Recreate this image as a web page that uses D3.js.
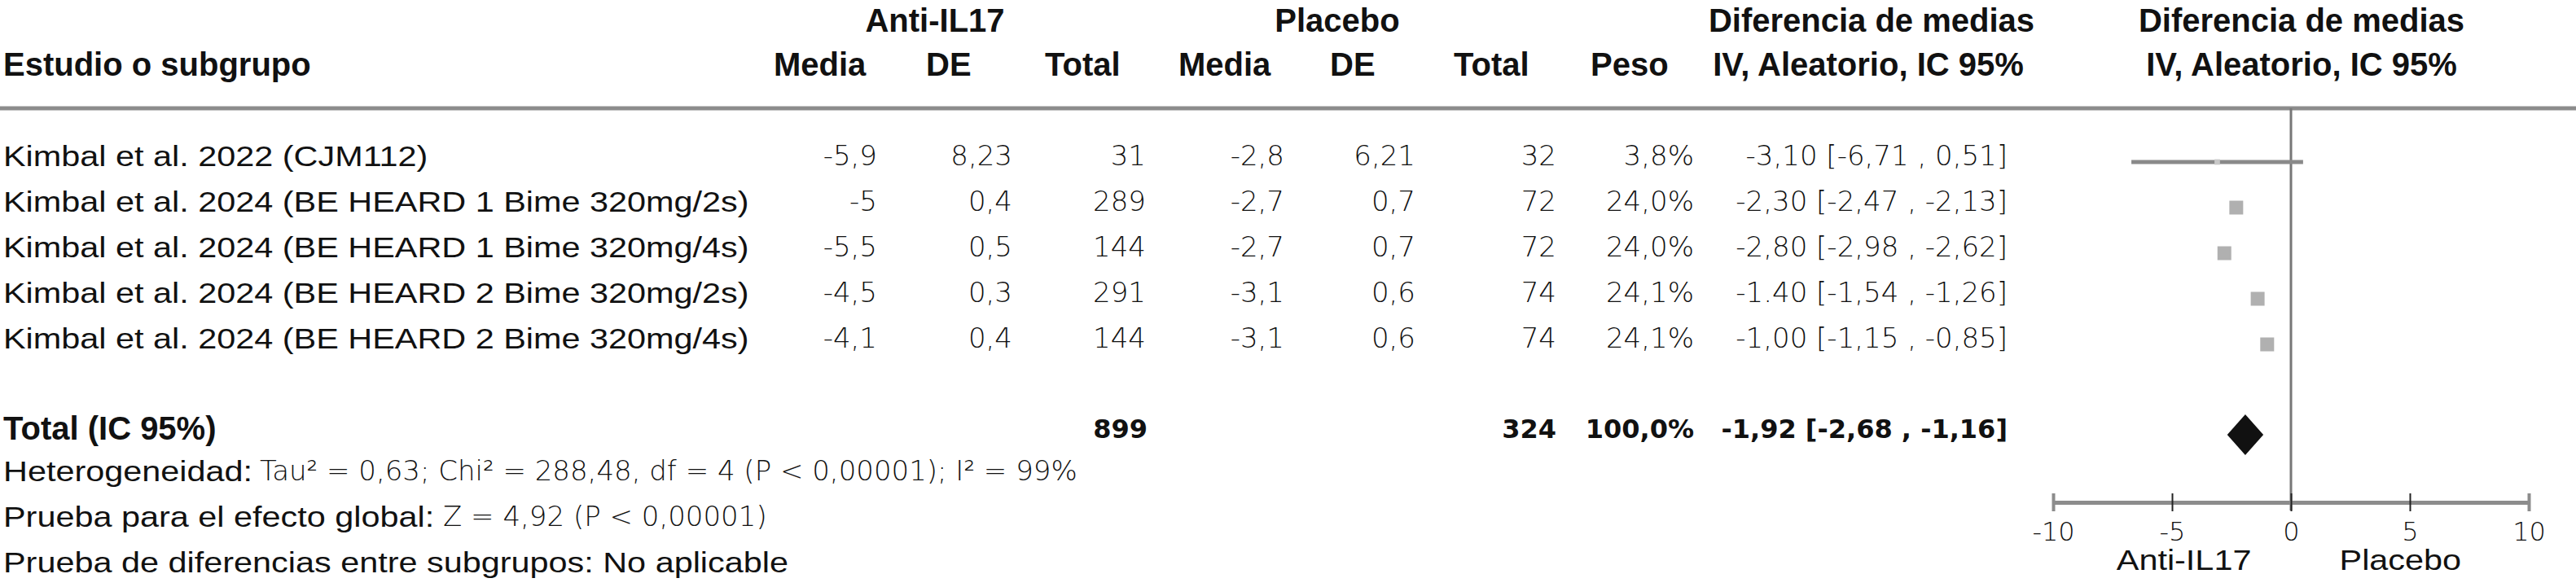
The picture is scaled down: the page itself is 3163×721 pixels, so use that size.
<!DOCTYPE html>
<html>
<head>
<meta charset="utf-8">
<script src="https://cdn.jsdelivr.net/npm/d3@7"></script>
<style>
  html, body { margin: 0; padding: 0; background: #fff; }
  svg { display: block; }
</style>
</head>
<body>
<svg id="chart" width="3163" height="721"></svg>
<script>
// ---------------- DATA ----------------
const studies = [
  "Kimbal et al. 2022 (CJM112)",
  "Kimbal et al. 2024 (BE HEARD 1 Bime 320mg/2s)",
  "Kimbal et al. 2024 (BE HEARD 1 Bime 320mg/4s)",
  "Kimbal et al. 2024 (BE HEARD 2 Bime 320mg/2s)",
  "Kimbal et al. 2024 (BE HEARD 2 Bime 320mg/4s)"
];
const antiMean = [-5.9, -5, -5.5, -4.5, -4.1];
const antiSD   = [8.23, 0.4, 0.5, 0.3, 0.4];
const antiN    = [31, 289, 144, 291, 144];
const plMean   = [-2.8, -2.7, -2.7, -3.1, -3.1];
const plSD     = [6.21, 0.7, 0.7, 0.6, 0.6];
const plN      = [32, 72, 72, 74, 74];
const weights  = [3.8, 24.0, 24.0, 24.1, 24.1];
const md       = [-3.10, -2.30, -2.80, -1.40, -1.00];
const ciLow    = [-6.71, -2.47, -2.98, -1.54, -1.15];
const ciHigh   = [0.51, -2.13, -2.62, -1.26, -0.85];
const ciLabels = [
  "-3,10 [-6,71 , 0,51]",
  "-2,30 [-2,47 , -2,13]",
  "-2,80 [-2,98 , -2,62]",
  "-1.40 [-1,54 , -1,26]",
  "-1,00 [-1,15 , -0,85]"
];
const totalAntiN = 899;
const totalPlN = 324;
const totalWeightLabel = "100,0%";
const pooled = [-1.92, -2.68, -1.16];   // md, low, high
const pooledLabel = "-1,92 [-2,68 , -1,16]";
const axisTicks = [-10, -5, 0, 5, 10];
const axisDomain = [-10, 10];
const favourLabels = ["Anti-IL17", "Placebo"];
const footer = [
  ["Heterogeneidad:", "Tau\u00B2 = 0,63; Chi\u00B2 = 288,48, df = 4 (P < 0,00001); I\u00B2 = 99%"],
  ["Prueba para el efecto global:", "Z = 4,92 (P < 0,00001)"],
  ["Prueba de diferencias entre subgrupos: No aplicable", ""]
];

// ---------------- STYLE ----------------
const LABEL_FONT = "'Liberation Sans', Arial, Helvetica, sans-serif";
const NUM_FONT = "'DejaVu Sans', sans-serif";
const svg = d3.select("#chart");

const fmt = v => String(v).replace(".", ",");
const fmtW = v => v.toFixed(1).replace(".", ",") + "%";

function label(x, y, str, anchor = "start", size = 36, sx = 1.15) {
  return svg.append("text")
    .attr("transform", `translate(${x},${y}) scale(${sx},1)`)
    .attr("text-anchor", anchor)
    .attr("font-family", LABEL_FONT)
    .attr("font-size", size)
    .attr("fill", "#111")
    .text(str);
}
function bold(x, y, str, anchor = "start") {
  return svg.append("text")
    .attr("x", x).attr("y", y)
    .attr("text-anchor", anchor)
    .attr("font-family", LABEL_FONT)
    .attr("font-weight", "bold")
    .attr("font-size", 40)
    .attr("fill", "#111")
    .text(str);
}
function num(x, y, str, anchor = "end", weight = "300", size = 34) {
  return svg.append("text")
    .attr("x", x).attr("y", y)
    .attr("text-anchor", anchor)
    .attr("font-family", NUM_FONT)
    .attr("font-weight", weight)
    .attr("font-size", size)
    .attr("fill", "#111")
    .text(str);
}

// ---------------- HEADERS ----------------
const H1 = 39, H2 = 93;
bold(1148, H1, "Anti-IL17", "middle");
bold(1642, H1, "Placebo", "middle");
bold(2298, H1, "Diferencia de medias", "middle");
bold(2826, H1, "Diferencia de medias", "middle");
bold(4, H2, "Estudio o subgrupo");
bold(950, H2, "Media");
bold(1137, H2, "DE");
bold(1283, H2, "Total");
bold(1447, H2, "Media");
bold(1633, H2, "DE");
bold(1785, H2, "Total");
bold(1953, H2, "Peso");
bold(2294, H2, "IV, Aleatorio, IC 95%", "middle");
bold(2826, H2, "IV, Aleatorio, IC 95%", "middle");

// separator
svg.append("line")
  .attr("x1", 0).attr("x2", 3163).attr("y1", 133).attr("y2", 133)
  .attr("stroke", "#8c8c8c").attr("stroke-width", 5);

// ---------------- ROWS ----------------
const yRow = d3.scaleLinear().domain([0, 1]).range([191, 247]);
const cols = {
  antiMean: 1077, antiSD: 1243, antiN: 1407,
  plMean: 1577, plSD: 1738, plN: 1911,
  weight: 2080, ci: 2465
};

studies.forEach((s, i) => {
  const yc = yRow(i);
  label(4, yc + 13, s);
  const yb = yc + 12;
  num(cols.antiMean, yb, fmt(antiMean[i]));
  num(cols.antiSD, yb, fmt(antiSD[i]));
  num(cols.antiN, yb, fmt(antiN[i]));
  num(cols.plMean, yb, fmt(plMean[i]));
  num(cols.plSD, yb, fmt(plSD[i]));
  num(cols.plN, yb, fmt(plN[i]));
  num(cols.weight, yb, fmtW(weights[i]));
  num(cols.ci, yb, ciLabels[i]);
});

// Total row
const yTot = 526;
bold(4, yTot + 14, "Total (IC 95%)");
num(cols.antiN + 2, yTot + 12, String(totalAntiN), "end", "bold", 32);
num(cols.plN, yTot + 12, String(totalPlN), "end", "bold", 32);
num(cols.weight, yTot + 12, totalWeightLabel, "end", "bold", 32);
num(cols.ci, yTot + 12, pooledLabel, "end", "bold", 32);

// Footer
const footY = [578, 634, 690];
const footNumX = [319, 544];
footer.forEach((f, i) => {
  label(4, footY[i] + 13, f[0]);
  if (f[1]) num(footNumX[i], footY[i] + 12, f[1], "start");
});

// ---------------- FOREST PLOT ----------------
const x = d3.scaleLinear().domain(axisDomain).range([2521, 3105]);
const size = d3.scaleSqrt().domain([0, 24.1]).range([0, 17]);
const axisY = 617;

// zero line
svg.append("line")
  .attr("x1", x(0)).attr("x2", x(0)).attr("y1", 133).attr("y2", axisY + 10)
  .attr("stroke", "#777").attr("stroke-width", 3);

const marks = svg.append("g");
studies.forEach((s, i) => {
  const yc = yRow(i) + 8;
  marks.append("line")
    .attr("x1", x(ciLow[i])).attr("x2", x(ciHigh[i]))
    .attr("y1", yc).attr("y2", yc)
    .attr("stroke", "#8a8a8a").attr("stroke-width", 5);
  const s2 = size(weights[i]);
  marks.append("rect")
    .attr("x", x(md[i]) - s2 / 2).attr("y", yc - s2 / 2)
    .attr("width", s2).attr("height", s2)
    .attr("fill", i === 0 ? "#c8c8c8" : "#b0b0b0");
});

// diamond
const dY = yTot + 8, dH = 25;
svg.append("path")
  .attr("d", `M${x(pooled[1])},${dY} L${x(pooled[0])},${dY - dH} L${x(pooled[2])},${dY} L${x(pooled[0])},${dY + dH} Z`)
  .attr("fill", "#111");

// axis
const axisG = svg.append("g").attr("transform", `translate(0,${axisY})`)
  .call(d3.axisBottom(x).tickValues(axisTicks).tickSize(0).tickPadding(0)
    .tickFormat(d => String(d)));
axisG.select(".domain").attr("stroke", "#8c8c8c").attr("stroke-width", 5);
axisG.selectAll(".tick line")
  .attr("y1", -11).attr("y2", 11)
  .attr("stroke", d => (d === -10 || d === 10) ? "#8c8c8c" : "#222")
  .attr("stroke-width", d => (d === -10 || d === 10) ? 4 : 2);
axisG.selectAll(".tick text")
  .attr("y", 47).attr("dy", null)
  .attr("font-family", NUM_FONT).attr("font-size", 32).attr("font-weight", 300)
  .attr("fill", "#111");

// favour labels
label(x(-4.5), 700, favourLabels[0], "middle");
label(x(4.6), 700, favourLabels[1], "middle");
</script>
</body>
</html>
